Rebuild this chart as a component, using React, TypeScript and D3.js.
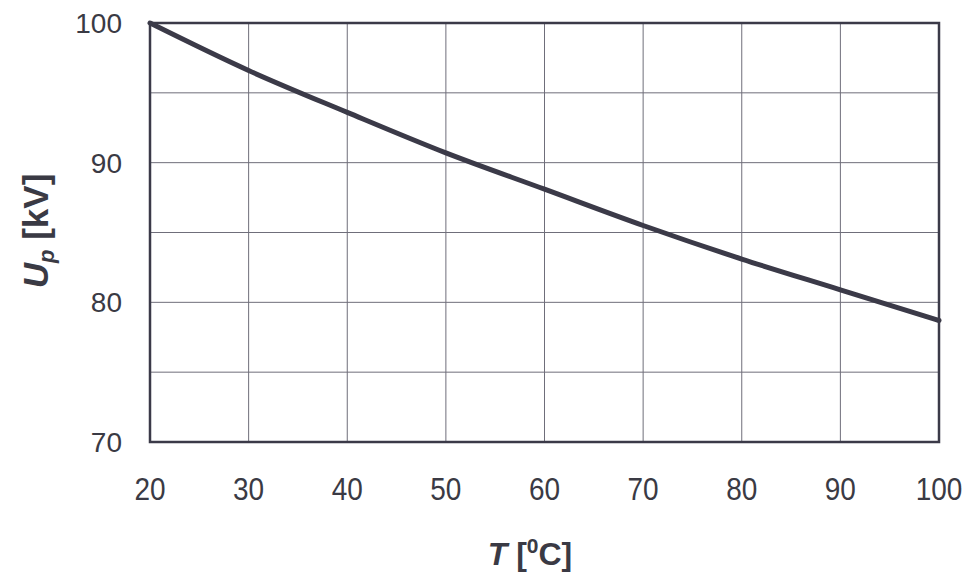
import React from "react";
import * as d3 from "d3";

const temps = [20, 30, 40, 50, 60, 70, 80, 90, 100];
const voltages = [100, 96.6, 93.6, 90.7, 88.1, 85.5, 83.1, 80.9, 78.7];
const xTicks = [20, 30, 40, 50, 60, 70, 80, 90, 100];
const yTickLabels = [70, 80, 90, 100];
const yGrid = [70, 75, 80, 85, 90, 95, 100];

const W = 976, H = 575;
const left = 150, right = 939, top = 23, bottom = 442;

export default function App() {
  const x = d3.scaleLinear().domain([20, 100]).range([left, right]);
  const y = d3.scaleLinear().domain([70, 100]).range([bottom, top]);
  const line = d3.line<number>()
    .x((_, i) => x(temps[i]))
    .y((d) => y(d))
    .curve(d3.curveMonotoneX);
  const ink = "#3b3a48";
  const font = "'Liberation Sans', Arial, sans-serif";
  return (
    <svg width={W} height={H} style={{ position: "absolute", left: 0, top: 0, background: "#fff" }}>
      <rect x={0} y={0} width={W} height={H} fill="#fff" />
      {xTicks.map((t) => (
        <line key={"gx" + t} x1={x(t)} x2={x(t)} y1={top} y2={bottom} stroke="#6f6e7a" strokeWidth={1} />
      ))}
      {yGrid.map((v) => (
        <line key={"gy" + v} x1={left} x2={right} y1={y(v)} y2={y(v)} stroke="#6f6e7a" strokeWidth={1} />
      ))}
      <rect x={left} y={top} width={right - left} height={bottom - top} fill="none" stroke={ink} strokeWidth={2.5} />
      <path d={line(voltages) || ""} fill="none" stroke={ink} strokeWidth={5} strokeLinecap="round" />
      {yTickLabels.map((v) => (
        <text key={"ly" + v} x={122} y={y(v)} dy="0.36em" textAnchor="end" fontFamily={font} fontSize={28} fill="#3a3a44">
          {v}
        </text>
      ))}
      {xTicks.map((t) => (
        <text key={"lx" + t} x={x(t)} y={500} textAnchor="middle" fontFamily={font} fontSize={28} fill="#3a3a44"
          transform={`translate(0,500) scale(1,1.12) translate(0,-500)`}>
          {t}
        </text>
      ))}
      <text x={0} y={0} transform={`translate(48,231) rotate(-90)`} textAnchor="middle" fontFamily={font} fontSize={35} fontWeight="bold" fill="#3a3a44">
        <tspan fontStyle="italic">U</tspan>
        <tspan fontStyle="italic" fontSize={22} dy={6}>p</tspan>
        <tspan dy={-6}> [kV]</tspan>
      </text>
      <text x={530} y={565} textAnchor="middle" fontFamily={font} fontSize={32} fontWeight="bold" fill="#3a3a44">
        <tspan fontStyle="italic">T</tspan>
        <tspan> [</tspan>
        <tspan fontSize={21} dy={-12}>0</tspan>
        <tspan dy={12}>C]</tspan>
      </text>
    </svg>
  );
}
